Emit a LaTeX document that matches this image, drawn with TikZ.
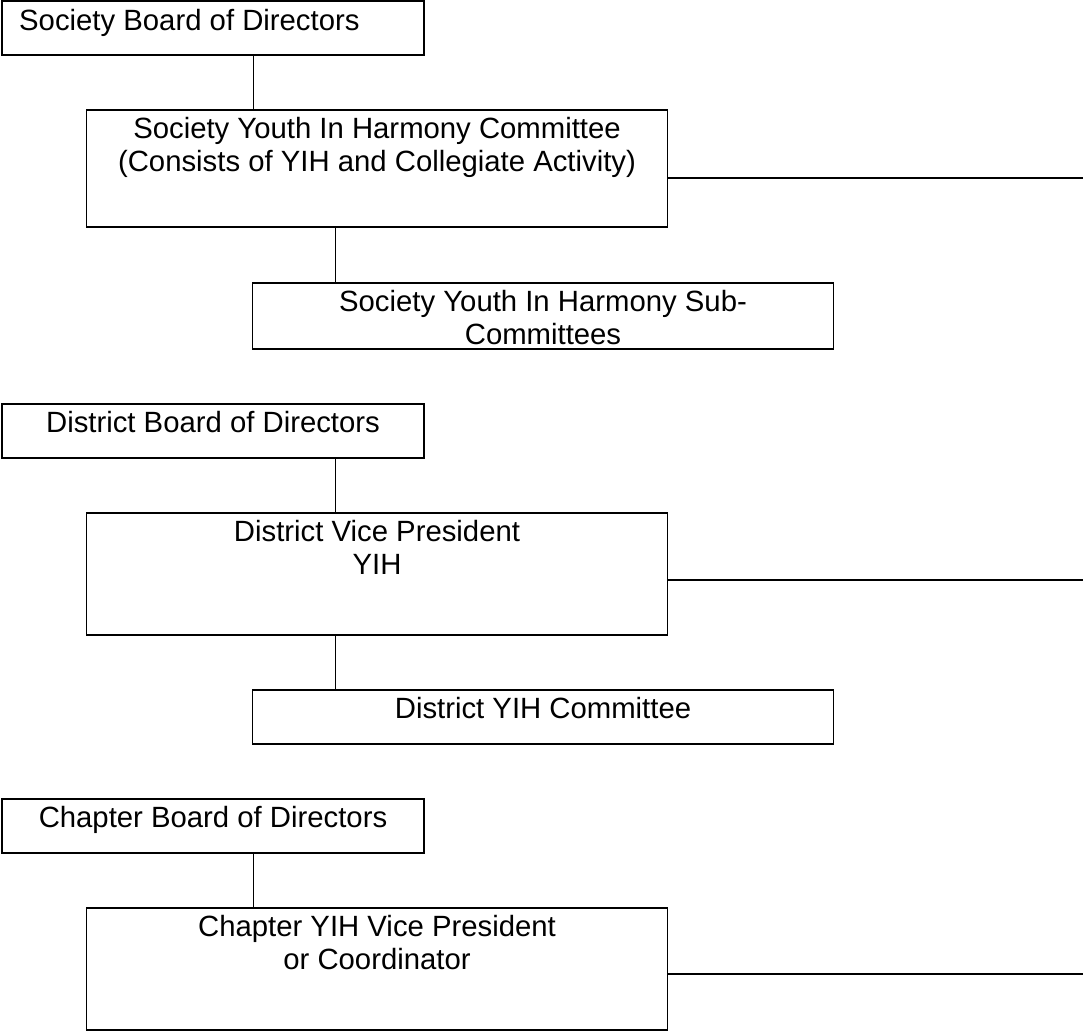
\documentclass[tikz,border=0pt]{standalone}
\usepackage{fontspec}
\setmainfont{Liberation Sans}
\usetikzlibrary{positioning,calc}

\begin{document}
\begin{tikzpicture}[x=1pt, y=-1pt,
    every node/.append style={font=\fontsize{29.3}{33}\selectfont},
    orgbox/.style={draw, line width=1.3pt, inner sep=0pt},
    wide/.style={orgbox, minimum width=581pt},
    narrow/.style={orgbox, minimum width=422pt, minimum height=54pt},
    txt/.style={anchor=north, align=center, inner sep=0pt},
    link/.style={line width=0.9pt},
    side/.style={line width=1.3pt}
  ]
  \fill[white] (0,0) rectangle (1083,1032);
  \useasboundingbox (0,0) rectangle (1083,1032);

  % Society level
  \node[narrow] (sbd) at (213,28) {};
  \node[wide, minimum height=117pt] (syc) at (377,168.5) {};
  \node[wide, minimum height=66pt] (ssc) at (543,316) {};
  \node[txt, anchor=north west] (sbdT) at (19,9) {Society Board of Directors};
  \node[txt] (sycT) at ([yshift=-8pt]syc.north)
    {Society Youth In Harmony Committee\\(Consists of YIH and Collegiate Activity)};
  \node[txt] (sscT) at ([yshift=-8pt]ssc.north)
    {Society Youth In Harmony Sub-\\Committees};
  \draw[link] ($(sbd.south)+(40,0)$) coordinate (sbdL) -- (sbdL |- syc.north);
  \draw[link] ($(syc.south)+(-42,0)$) coordinate (sycL) -- (sycL |- ssc.north);
  \coordinate (sycEnd) at (1083,178);
  \draw[side] (syc.east |- sycEnd) -- (sycEnd);

  % District level
  \node[narrow] (dbd) at (213,431) {};
  \node[wide, minimum height=122pt] (dvp) at (377,574) {};
  \node[wide, minimum height=54pt] (dyc) at (543,717) {};
  \node[txt] (dbdT) at ([yshift=-8pt]dbd.north) {District Board of Directors};
  \node[txt] (dvpT) at ([yshift=-8pt]dvp.north) {District Vice President\\YIH};
  \node[txt] (dycT) at ([yshift=-8pt]dyc.north) {District YIH Committee};
  \draw[link] ($(dbd.south)+(122,0)$) coordinate (dbdL) -- (dbdL |- dvp.north);
  \draw[link] ($(dvp.south)+(-42,0)$) coordinate (dvpL) -- (dvpL |- dyc.north);
  \coordinate (dvpEnd) at (1083,580);
  \draw[side] (dvp.east |- dvpEnd) -- (dvpEnd);

  % Chapter level
  \node[narrow] (cbd) at (213,826) {};
  \node[wide, minimum height=122pt] (cvp) at (377,969) {};
  \node[txt] (cbdT) at ([yshift=-8pt]cbd.north) {Chapter Board of Directors};
  \node[txt] (cvpT) at ([yshift=-8pt]cvp.north) {Chapter YIH Vice President\\or Coordinator};
  \draw[link] ($(cbd.south)+(40,0)$) coordinate (cbdL) -- (cbdL |- cvp.north);
  \coordinate (cvpEnd) at (1083,974);
  \draw[side] (cvp.east |- cvpEnd) -- (cvpEnd);
\end{tikzpicture}
\end{document}
